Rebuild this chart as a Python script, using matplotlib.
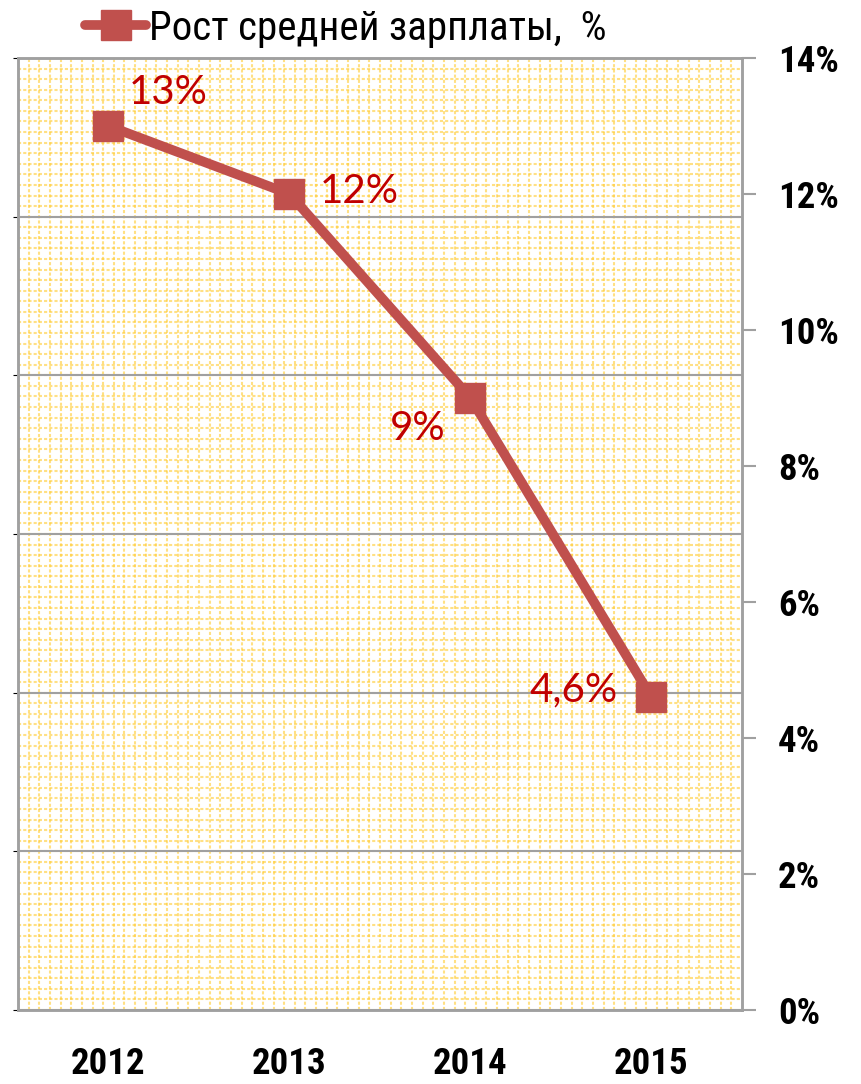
import numpy as np
import matplotlib
matplotlib.use("Agg")
import matplotlib.pyplot as plt
from matplotlib.lines import Line2D
from matplotlib import font_manager as fm

years = ["2012", "2013", "2014", "2015"]
growth = [13.0, 12.0, 9.0, 4.6]
point_labels = ["13%", "12%", "9%", "4,6%"]
right_ticks = [0, 2, 4, 6, 8, 10, 12, 14]
right_tick_labels = ["0%", "2%", "4%", "6%", "8%", "10%", "12%", "14%"]
legend_label = "Рост средней зарплаты,  %"


def pick(cands):
    for c in cands:
        try:
            fm.findfont(fm.FontProperties(family=c), fallback_to_default=False)
            return c
        except Exception:
            pass
    return None


narrow = pick(["Liberation Sans Narrow", "Arial Narrow", "Roboto Condensed",
               "DejaVu Sans Condensed", "Open Sans Condensed", "Noto Sans Condensed"])
if narrow is None:
    NARROW = ["Liberation Sans", "DejaVu Sans"]
    TICK_FS, LEG_FS = 22, 25
else:
    NARROW = [narrow, "DejaVu Sans"]
    TICK_FS, LEG_FS = 26.5, 29.5

LINE_C = "#C0504D"
LABEL_C = "#C00000"
GRID_C = "#A0A0A0"

fig = plt.figure(figsize=(8.62, 10.84), dpi=100)
W, H = 862, 1084
L, R, T, B = 18, 742, 58, 1010
ax = fig.add_axes([L / W, 1 - B / H, (R - L) / W, (B - T) / H])
ax.set_facecolor("white")

# fine yellow background pattern
nx, ny = 68, 90
ax.vlines(np.linspace(0, 1, nx + 1)[1:-1], 0, 1, transform=ax.transAxes,
          colors="#FFCC33", linewidth=1.5, linestyles=(0, (1.5, 1)), alpha=0.6, zorder=0)
ax.hlines(np.linspace(0, 1, ny + 1)[1:-1], 0, 1, transform=ax.transAxes,
          colors="#FFCC33", linewidth=1.5, linestyles=(0, (1.5, 1)), alpha=0.6, zorder=0)

# primary (hidden) axis with 6 gridline divisions
ax.set_xlim(-0.5, len(years) - 0.5)
ax.set_ylim(0, 6)
ax.set_yticks(range(0, 7))
ax.yaxis.grid(True, color=GRID_C, linewidth=1.5, zorder=1)
ax.set_axisbelow(False)
ax.tick_params(axis="y", left=False, labelleft=False)
ax.set_xticks(range(len(years)))
ax.set_xticklabels(years, fontsize=TICK_FS, fontweight="bold", family=NARROW)
ax.tick_params(axis="x", length=0, pad=26)
for s in ax.spines.values():
    s.set_color(GRID_C)
    s.set_linewidth(1.8)
    s.set_zorder(3)

# secondary axis with data
ax2 = ax.twinx()
ax2.set_ylim(0, 14)
ax2.set_yticks(right_ticks)
ax2.set_yticklabels(right_tick_labels, fontsize=TICK_FS, fontweight="bold", family=NARROW)
ax2.tick_params(axis="y", direction="out", length=10, width=1.5, color=GRID_C, pad=16)
for s in ax2.spines.values():
    s.set_color(GRID_C)
    s.set_linewidth(1.8)

xs = np.arange(len(years))
line, = ax2.plot(xs, growth, color=LINE_C, linewidth=7, marker="s", markersize=21,
                 markeredgecolor=LINE_C, markerfacecolor=LINE_C, solid_capstyle="round",
                 zorder=5, clip_on=False)

offsets = [(43, 24), (50, 2), (-38, -22), (-56, 5)]
for x, v, lab, off in zip(xs, growth, point_labels, offsets):
    ax2.annotate(lab, (x, v), xytext=off, textcoords="offset points",
                 ha="center", va="center", fontsize=29, color=LABEL_C,
                 family=["Lato", "DejaVu Sans"], zorder=6)

handle = Line2D([], [], color=LINE_C, linewidth=7, marker="s", markersize=21,
                solid_capstyle="round")
fig.legend([handle], [legend_label], loc="center left",
           bbox_to_anchor=(85 / W, 1 - 28 / H), frameon=False,
           prop={"family": NARROW, "size": LEG_FS}, handlelength=1.5,
           handletextpad=0.05, borderpad=0, borderaxespad=0)

fig.savefig("out.png", dpi=100)
